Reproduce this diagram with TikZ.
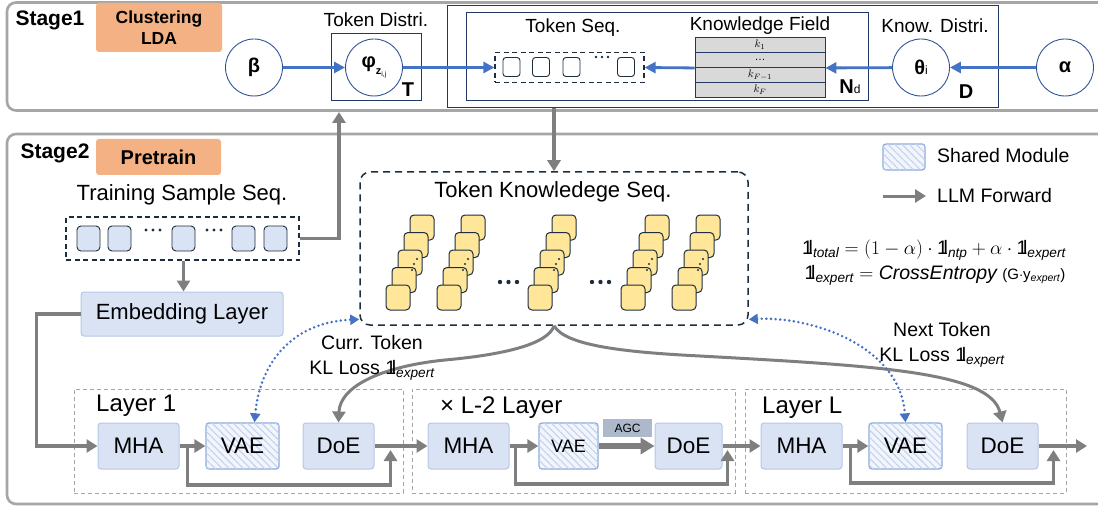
\RequirePackage{fix-cm}
\documentclass[tikz,border=0pt]{standalone}
\usepackage{amsmath}
\usepackage{fontspec}
\setmainfont{Liberation Sans}
\usetikzlibrary{arrows.meta,patterns.meta}

\definecolor{framegray}{HTML}{A6A6A6}
\definecolor{tagorange}{HTML}{F4B183}
\definecolor{circblue}{HTML}{2F5597}
\definecolor{arrblue}{HTML}{4472C4}
\definecolor{platenavy}{HTML}{1F3864}
\definecolor{seqdark}{HTML}{1C2E3D}
\definecolor{lblue}{HTML}{DAE3F3}
\definecolor{lblueline}{HTML}{B4C7E7}
\definecolor{hatchblue}{HTML}{8FAADC}
\definecolor{hatchbg}{HTML}{F2F6FC}
\definecolor{hatchline}{HTML}{C3D3EE}
\definecolor{fwdgray}{HTML}{7F7F7F}
\definecolor{tokyellow}{HTML}{FFE699}
\definecolor{fieldgray}{HTML}{D9D9D9}
\definecolor{agcgray}{HTML}{ADB9CA}

\newcommand{\fsz}[2]{\fontsize{#1}{#2}\selectfont}
\newcommand{\onelbl}{\mathrm{1\kern-0.22em l}}

\begin{document}
\begin{tikzpicture}[x=1pt, y=-1pt,
    stageframe/.style={draw=framegray, line width=2.6pt, rounded corners=9pt},
    stagetag/.style={fill=tagorange, rounded corners=3pt, align=center, inner sep=0pt, font=\bfseries\fsz{17.5}{21}},
    stagelbl/.style={inner sep=0pt, font=\bfseries\fsz{21}{22}},
    randvar/.style={circle, draw=circblue, line width=0.9pt, minimum size=57pt, inner sep=0pt, font=\bfseries\fsz{20}{22}},
    plate/.style={draw=platenavy, line width=1pt, inner sep=0pt},
    platelbl/.style={inner sep=0pt, font=\bfseries\fsz{20}{22}},
    smalllbl/.style={inner sep=0pt, font=\fsz{19}{22}},
    lbl/.style={inner sep=0pt, align=center, font=\fsz{19.5}{25}},
    biglbl/.style={inner sep=0pt, font=\fsz{22}{25}},
    layerlbl/.style={inner sep=0pt, anchor=west, font=\fsz{24}{26}},
    seqbox/.style={draw=seqdark, line width=1.3pt, dash pattern=on 5pt off 3.5pt, inner sep=0pt},
    tok/.style={draw=seqdark, line width=0.9pt, rounded corners=3pt, fill=white, inner sep=0pt, minimum width=17pt, minimum height=19pt},
    sample/.style={tok, fill=lblue, rounded corners=4pt, minimum width=23pt, minimum height=25pt},
    kbox/.style={draw=seqdark, line width=1pt, fill=tokyellow, rounded corners=4pt, inner sep=0pt, minimum width=24pt, minimum height=25pt},
    field/.style={draw=platenavy, line width=0.9pt, fill=fieldgray, inner sep=0pt, minimum width=130pt, minimum height=15pt, font=\fsz{11}{11}},
    blk/.style={fill=lblue, draw=lblueline, line width=1pt, rounded corners=3pt, inner sep=0pt, minimum height=46pt, font=\fsz{22.5}{24}},
    shared/.style={blk, fill=hatchbg, draw=hatchblue, line width=1.3pt, postaction={pattern={Lines[angle=-45,distance=5pt,line width=1.1pt]}, pattern color=hatchline}},
    agc/.style={fill=agcgray, inner sep=0pt, minimum width=49pt, minimum height=18pt, font=\fsz{12}{12}},
    layerbox/.style={draw=framegray, line width=1pt, dash pattern=on 4pt off 3pt, inner sep=0pt, minimum height=104pt},
    fwd/.style={draw=fwdgray, line width=3.5pt, -{Triangle[length=11pt,width=13pt]}},
    ldaarrow/.style={draw=arrblue, line width=2.8pt, -{Triangle[length=11pt,width=11pt]}},
    klarrow/.style={draw=arrblue, line width=2.8pt, line cap=round, dash pattern=on 0pt off 4.6pt, >={Triangle[length=9pt,width=10pt]}, <->}
]
\useasboundingbox (0,0) rectangle (1098,508);

\draw[stageframe] (7,2.5) rectangle (1112,110.5);
\node[stagelbl] (st1) at (50,20) {Stage1};
\node[stagetag, minimum width=126pt, minimum height=49pt] (lda) at (159,27.5) {Clustering\\LDA};

\node[plate, minimum width=90pt, minimum height=67pt] (tplate) at (376,67.5) {};
\node[plate, minimum width=551pt, minimum height=102pt] (dplate) at (722.5,56.5) {};
\node[plate, minimum width=402pt, minimum height=88pt] (nplate) at (667,57) {};

\node[randvar] (beta) at (254,67.5) {β};
\node[randvar] (phi) at (374,67.5) {φ\raisebox{-7pt}{\fsz{11}{11}z\raisebox{-2pt}{\fsz{7}{7}\mdseries i,j}}};
\node[smalllbl] (tdlbl) at (376,20) {Token Distri.};
\node[platelbl] (tlbl) at (408,90) {T};

\node[smalllbl] (tslbl) at (573,28) {Token Seq.};
\node[seqbox, minimum width=149pt, minimum height=30pt] (tseq) at (569.5,67.5) {};
\foreach \tx [count=\ti] in {511.5,541,571.5,626}
  \node[tok] (t\ti) at (\tx,67) {};
\fill[seqdark] (596,57) circle (1.3pt) (602,57) circle (1.3pt) (608,57) circle (1.3pt);

\node[smalllbl] (kflbl) at (760,26) {Knowledge Field};
\foreach \kl [count=\ki] in {$k_1$,\ldots,$k_{F-1}$,$k_F$}
  \node[field] (kf\ki) at (760,30+15*\ki) {\kl};
\node[platelbl] (ndlbl) at (850,87) {N{\fsz{12}{12}\mdseries d}};

\node[smalllbl] (kdlbl) at (935,26) {Know. Distri.};
\node[randvar] (theta) at (921,67.5) {θ{\fsz{12}{12}\mdseries i}};
\node[platelbl] (dlbl) at (966,92) {D};
\node[randvar] (alpha) at (1065,67.5) {α};

\draw[ldaarrow] (beta) -- (phi);
\draw[ldaarrow] (phi) -- (tseq);
\draw[ldaarrow] (kf2.south west) -- (tseq.east);
\draw[ldaarrow] (theta) -- (kf2.south east);
\draw[ldaarrow] (alpha) -- (theta);

\draw[stageframe] (7,134) rectangle (1112,504);
\node[stagelbl] (st2) at (55,153) {Stage2};
\node[stagetag, minimum width=125pt, minimum height=36pt, font=\bfseries\fsz{20}{22}] (pre) at (158.5,157) {Pretrain};

\node[biglbl] (tsslbl) at (182,195) {Training Sample Seq.};
\node[seqbox, minimum width=233pt, minimum height=43pt] (sseq) at (182.5,238.5) {};
\foreach \sx [count=\si] in {88.5,119.5,183.5,243.5,275.5}
  \node[sample] (smp\si) at (\sx,238.5) {};
\fill[seqdark] (146,230) circle (1.7pt) (153,230) circle (1.7pt) (160,230) circle (1.7pt)
               (207,230) circle (1.7pt) (214,230) circle (1.7pt) (221,230) circle (1.7pt);
\node[blk, biglbl, minimum width=202pt, minimum height=44pt] (emb) at (182,314) {Embedding Layer};

\coordinate (tdin) at (339,112);
\draw[fwd] (sseq.south -| smp3) -- (emb.north -| smp3);
\draw[fwd] (sseq.east) -| (tdin);

\node[seqbox, rounded corners=10pt, line width=1.5pt, dash pattern=on 7pt off 5pt, minimum width=388pt, minimum height=153pt] (tks) at (554,248.5) {};
\node[biglbl] (tkslbl) at (553,192) {Token Knowledege Seq.};
\draw[fwd] (tks.north |- dplate.south) -- (tks.north);
\foreach \sx [count=\si] in {386,437,528,621,672} {
  \foreach \lv in {4,3,2,1,0}
    \node[kbox] (kn\si-\lv) at (\sx+12+6*\lv,297.5-17.5*\lv) {};
  \fill[seqdark] (\sx+31,259) circle (1.2pt) (\sx+28,264) circle (1.2pt) (\sx+26,270) circle (1.2pt);
}
\fill[seqdark] (500,282) circle (2.2pt) (508.5,282) circle (2.2pt) (517,282) circle (2.2pt)
               (592,282) circle (2.2pt) (600.5,282) circle (2.2pt) (609,282) circle (2.2pt);

\node[shared, minimum width=42pt, minimum height=26pt] (lgshared) at (904,157) {};
\node[lbl, anchor=west] (lgsharedtxt) at (937,156) {Shared Module};
\coordinate (lgfwda) at (883,196);
\coordinate (lgfwdb) at (926,196);
\draw[fwd, line width=3pt] (lgfwda) -- (lgfwdb);
\node[lbl, anchor=west] (lgfwdtxt) at (937,196) {LLM Forward};
\node[lbl] (ltot) at (934,250) {$\onelbl_{\textit{total}} = (1-\alpha)\cdot\onelbl_{\textit{ntp}} + \alpha\cdot\onelbl_{\textit{expert}}$};
\node[lbl] (lexp) at (935,275) {$\onelbl_{\textit{expert}} = \textit{CrossEntropy}$ {\fsz{15}{15}(G$\cdot$y$_{\textit{expert}}$)}};

\node[layerbox, minimum width=329pt] (lay1) at (238.5,441) {};
\node[layerbox, minimum width=323pt] (lay2) at (573.5,441) {};
\node[layerbox, minimum width=321pt] (layL) at (905.5,441) {};
\node[layerlbl] (lay1lbl) at (96,406) {Layer 1};
\node[layerlbl] (lay2lbl) at (440,408) {× L-2 Layer};
\node[layerlbl] (layLlbl) at (762,408) {Layer L};

\node[blk, minimum width=81pt] (mha1) at (138.5,446) {MHA};
\node[shared, minimum width=73pt] (vae1) at (242.5,446) {VAE};
\node[blk, minimum width=71pt] (doe1) at (338.5,446) {DoE};
\node[blk, minimum width=81pt] (mha2) at (468.5,446) {MHA};
\node[shared, minimum width=59pt, font=\fsz{18}{20}] (vae2) at (568.5,446) {VAE};
\node[agc] (agcl) at (627.5,428) {AGC};
\node[blk, minimum width=67pt] (doe2) at (688.5,446) {DoE};
\node[blk, minimum width=81pt] (mhaL) at (801.5,446) {MHA};
\node[shared, minimum width=73pt] (vaeL) at (905.5,446) {VAE};
\node[blk, minimum width=71pt] (doeL) at (1002.5,446) {DoE};
\coordinate (out) at (1087,446);

\draw[fwd] (emb.west) -- ++(-44,0) |- (mha1.west);
\draw[fwd] (mha1) -- (vae1);
\draw[fwd] ([xshift=8pt]mha1.east) -- ++(0,39) -| ([xshift=16pt,yshift=-4pt]doe1.east);
\draw[fwd] (doe1) -- (mha2);
\draw[fwd] (mha2) -- (vae2);
\draw[fwd, line width=6pt, -{Triangle[length=14pt,width=16pt]}] (vae2) -- (doe2);
\draw[fwd] ([xshift=6pt]mha2.east) -- ++(0,38) -| ([xshift=5pt,yshift=-4pt]doe2.east);
\draw[fwd] (doe2) -- (mhaL);
\draw[fwd] (mhaL) -- (vaeL);
\draw[fwd] ([xshift=8pt]mhaL.east) -- ++(0,37) -| ([xshift=15pt,yshift=-4pt]doeL.east);
\draw[fwd] (doeL) -- (out);

\draw[fwd, line width=3pt] (tks.south) .. controls (548,345) and (500,355) .. (445,360) .. controls (385,366) and (340,385) .. (doe1.north);
\draw[fwd, line width=3pt] (tks.south) .. controls (565,345) and (620,352) .. (700,356) .. controls (880,366) and (990,372) .. (doeL.north);

\draw[klarrow] ([xshift=12pt]vae1.north) .. controls (260,360) and (295,322) .. (tks.200);
\draw[klarrow] (tks.340) .. controls (810,316) and (900,345) .. (vaeL.north);

\node[lbl] (kl1) at (372,357.5) {Curr. Token\\KL Loss $\onelbl_{\textit{expert}}$};
\node[lbl] (kl2) at (942,345) {Next Token\\KL Loss $\onelbl_{\textit{expert}}$};
\end{tikzpicture}
\end{document}
